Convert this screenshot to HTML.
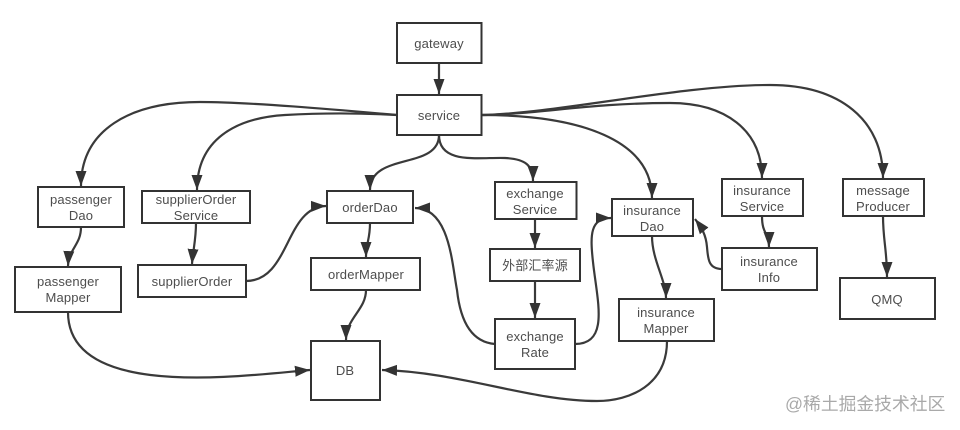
<!DOCTYPE html>
<html>
<head>
<meta charset="utf-8">
<style>
html,body{margin:0;padding:0;background:#fff;}
body{width:960px;height:430px;overflow:hidden;}
svg{display:block;}
.b{fill:#fff;stroke:#333;stroke-width:2;}
.c{fill:none;stroke:#3a3a3a;stroke-width:2.2;}
text{font-family:"Liberation Sans","Noto Sans CJK SC",sans-serif;font-size:13px;fill:#4d4d4d;text-anchor:middle;letter-spacing:.15px;}
.w{font-size:17.8px;fill:#a9a9a9;text-anchor:start;letter-spacing:0;}
</style>
</head>
<body>
<svg width="960" height="430" viewBox="0 0 960 430" xmlns="http://www.w3.org/2000/svg">
<defs>
<marker id="a" markerUnits="userSpaceOnUse" markerWidth="16" markerHeight="12" refX="15" refY="6" orient="auto">
<path d="M0,0.5 L15,6 L0,11.5 Z" fill="#333"/>
</marker>
</defs>
<g class="c">
<path class="c" marker-end="url(#a)" d="M439,63 L439,94"/>
<path class="c" marker-end="url(#a)" d="M397,115 C340,110 250,102 200,102 C130,102 81,130 81,186"/>
<path class="c" marker-end="url(#a)" d="M397,115 C360,113 320,113 285,115 C235,118 197,140 197,190"/>
<path class="c" marker-end="url(#a)" d="M439,135 C439,170 370,152 370,190"/>
<path class="c" marker-end="url(#a)" d="M439,135 C439,165 480,157 505,158 C525,159 533,165 533,181"/>
<path class="c" marker-end="url(#a)" d="M482,115 C580,115 652,140 652,198"/>
<path class="c" marker-end="url(#a)" d="M482,115 C540,114 590,103 670,103 C725,103 762,130 762,178"/>
<path class="c" marker-end="url(#a)" d="M482,115 C560,113 680,85 770,85 C840,85 883,120 883,178"/>
<path class="c" marker-end="url(#a)" d="M81,227 C81,245 69,248 68,266"/>
<path class="c" marker-end="url(#a)" d="M196,223 C196,240 193,250 192,264"/>
<path class="c" marker-end="url(#a)" d="M246,281 C290,281 285,207 326,206"/>
<path class="c" marker-end="url(#a)" d="M370,223 C370,240 366,243 366,257"/>
<path class="c" marker-end="url(#a)" d="M366,290 C366,310 346,318 346,340"/>
<path class="c" marker-end="url(#a)" d="M68,312 C68,400 240,376 310,370"/>
<path class="c" marker-end="url(#a)" d="M495,344 C470,342 460,318 457,290 C452,265 450,208 415,208"/>
<path class="c" marker-end="url(#a)" d="M575,344 C610,344 597,300 593,262 C590,235 590,218 611,218"/>
<path class="c" marker-end="url(#a)" d="M535,219 L535,248"/>
<path class="c" marker-end="url(#a)" d="M535,281 L535,318"/>
<path class="c" marker-end="url(#a)" d="M652,236 C652,260 666,280 666,298"/>
<path class="c" marker-end="url(#a)" d="M667,341 C667,385 630,401 597,401 C530,401 460,372 382,370"/>
<path class="c" marker-end="url(#a)" d="M762,216 C762,235 769,232 769,247"/>
<path class="c" marker-end="url(#a)" d="M722,269 C708,269 708,258 707,247 C706,235 702,228 695,219"/>
<path class="c" marker-end="url(#a)" d="M883,216 C883,240 887,250 887,277"/>
</g>
<rect class="b" x="397" y="23" width="84.5" height="40"/>
<rect class="b" x="397" y="95" width="84.5" height="40"/>
<rect class="b" x="38" y="187" width="86" height="40"/>
<rect class="b" x="142" y="191" width="108" height="32"/>
<rect class="b" x="327" y="191" width="86" height="32"/>
<rect class="b" x="495" y="182" width="81.5" height="37"/>
<rect class="b" x="612" y="199" width="81" height="37"/>
<rect class="b" x="722" y="179" width="81" height="37"/>
<rect class="b" x="843" y="179" width="81" height="37"/>
<rect class="b" x="15" y="267" width="106" height="45"/>
<rect class="b" x="138" y="265" width="108" height="32"/>
<rect class="b" x="311" y="258" width="109" height="32"/>
<rect class="b" x="490" y="249" width="90" height="32"/>
<rect class="b" x="722" y="248" width="95" height="42"/>
<rect class="b" x="840" y="278" width="95" height="41"/>
<rect class="b" x="619" y="299" width="95" height="42"/>
<rect class="b" x="495" y="319" width="80" height="50"/>
<rect class="b" x="311" y="341" width="69" height="59"/>
<text x="439" y="48">gateway</text>
<text x="439" y="120">service</text>
<text x="81" y="204">passenger</text>
<text x="81" y="220">Dao</text>
<text x="196" y="204">supplierOrder</text>
<text x="196" y="220">Service</text>
<text x="370" y="212">orderDao</text>
<text x="535" y="198">exchange</text>
<text x="535" y="214">Service</text>
<text x="652" y="215">insurance</text>
<text x="652" y="231">Dao</text>
<text x="762" y="195">insurance</text>
<text x="762" y="211">Service</text>
<text x="883" y="195">message</text>
<text x="883" y="211">Producer</text>
<text x="68" y="286">passenger</text>
<text x="68" y="302">Mapper</text>
<text x="192" y="286">supplierOrder</text>
<text x="366" y="279">orderMapper</text>
<text x="535" y="270">外部汇率源</text>
<text x="769" y="266">insurance</text>
<text x="769" y="282">Info</text>
<text x="887" y="304">QMQ</text>
<text x="666" y="317">insurance</text>
<text x="666" y="333">Mapper</text>
<text x="535" y="341">exchange</text>
<text x="535" y="357">Rate</text>
<text x="345" y="375">DB</text>
<text class="w" x="785" y="410">@稀土掘金技术社区</text>
</svg>
</body>
</html>
